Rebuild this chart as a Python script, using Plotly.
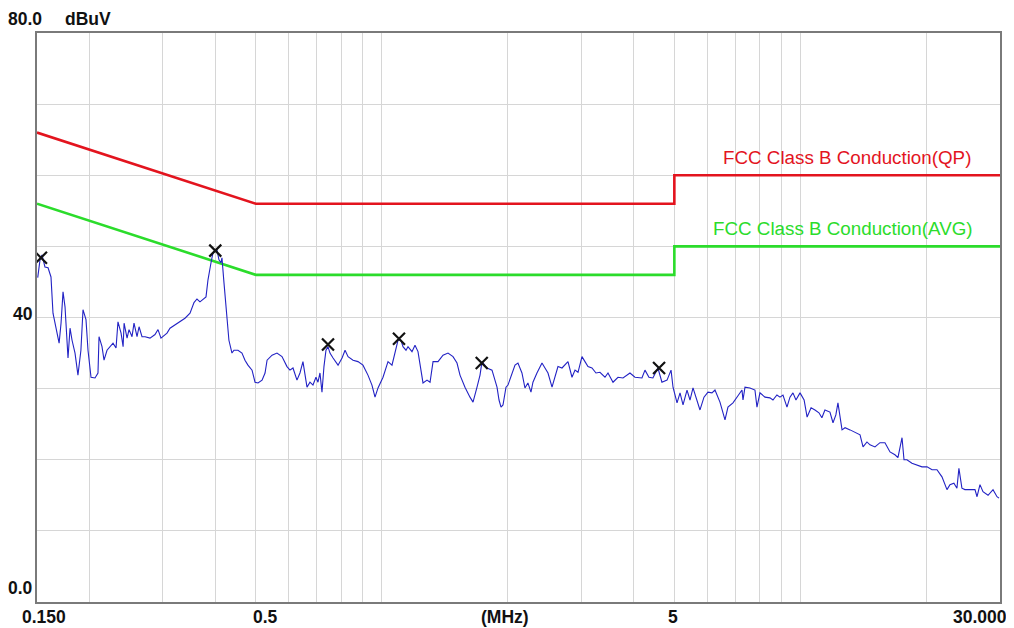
import math
import plotly.graph_objects as go

# ---------------- data ----------------
freq_mhz = [
    0.1506, 0.1525, 0.1542, 0.1567, 0.1594, 0.1620, 0.1638, 0.1666, 0.1694, 0.1712,
    0.1731, 0.1750, 0.1779, 0.1799, 0.1819, 0.1849, 0.1879, 0.1910, 0.1932, 0.1964,
    0.1986, 0.2019, 0.2064, 0.2098, 0.2110, 0.2145, 0.2169, 0.2205, 0.2242, 0.2279,
    0.2317, 0.2342, 0.2382, 0.2409, 0.2422, 0.2462, 0.2489, 0.2530, 0.2558, 0.2601,
    0.2630, 0.2673, 0.2718, 0.2793, 0.2871, 0.2919, 0.2967, 0.3067, 0.3118, 0.3205,
    0.3294, 0.3386, 0.3481, 0.3558, 0.3617, 0.3677, 0.3801, 0.3843, 0.3907, 0.3950,
    0.4038, 0.4082, 0.4127, 0.4150, 0.4196, 0.4266, 0.4312, 0.4385, 0.4433, 0.4532,
    0.4633, 0.4710, 0.4788, 0.4897, 0.4978, 0.5061, 0.5174, 0.5260, 0.5319, 0.5467,
    0.5617, 0.5774, 0.5935, 0.6033, 0.6134, 0.6270, 0.6374, 0.6480, 0.6552, 0.6626,
    0.6735, 0.6847, 0.6961, 0.7038, 0.7116, 0.7195, 0.7274, 0.7355, 0.7436, 0.7519,
    0.7647, 0.7860, 0.8035, 0.8169, 0.8305, 0.8536, 0.8771, 0.9015, 0.9266, 0.9472,
    0.9633, 0.9793, 1.0066, 1.0347, 1.0576, 1.0752, 1.0931, 1.1113, 1.1236, 1.1423,
    1.1550, 1.1806, 1.2003, 1.2203, 1.2407, 1.2544, 1.2824, 1.3038, 1.3256, 1.3623,
    1.4003, 1.4394, 1.4795, 1.5124, 1.5375, 1.5802, 1.6244, 1.6516, 1.6885, 1.7166,
    1.7355, 1.7836, 1.8336, 1.8848, 1.9057, 1.9266, 1.9478, 1.9802, 2.002, 2.047,
    2.081, 2.115, 2.162, 2.198, 2.234, 2.272, 2.297, 2.348, 2.414, 2.454,
    2.495, 2.551, 2.593, 2.636, 2.695, 2.740, 2.785, 2.847, 2.895, 2.943,
    3.008, 3.058, 3.109, 3.178, 3.249, 3.321, 3.414, 3.471, 3.568, 3.667,
    3.770, 3.917, 4.026, 4.184, 4.254, 4.348, 4.444, 4.568, 4.670, 4.803,
    4.910, 4.964, 5.075, 5.159, 5.245, 5.361, 5.450, 5.541, 5.664, 5.758,
    5.886, 6.017, 6.150, 6.253, 6.427, 6.607, 6.716, 6.904, 7.097, 7.254,
    7.295, 7.375, 7.580, 7.791, 7.878, 8.009, 8.232, 8.461, 8.602, 8.792,
    8.941, 9.090, 9.292, 9.446, 9.603, 9.763, 9.984, 10.21, 10.38, 10.61,
    10.84, 11.08, 11.26, 11.45, 11.77, 11.97, 12.16, 12.30, 12.58, 12.79,
    13.15, 13.51, 13.89, 14.12, 14.43, 14.67, 15.08, 15.50, 15.93, 16.38,
    16.83, 17.11, 17.50, 17.69, 17.98, 18.48, 19.00, 19.53, 20.08, 20.64,
    21.21, 21.80, 22.41, 22.78, 23.28, 23.67, 23.93, 24.33, 24.73, 25.43,
    26.14, 26.44, 26.87, 27.32, 28.09, 28.87, 29.51, 29.84,
]
level_dbuv = [
    45.6, 48.1, 48.8, 47.1, 47.0, 45.7, 40.6, 38.7, 36.4, 39.2,
    43.6, 41.5, 34.3, 38.5, 36.8, 35.0, 31.9, 35.4, 41.1, 39.7,
    35.4, 31.6, 31.5, 32.2, 37.3, 35.9, 34.0, 35.4, 35.9, 36.4,
    35.7, 39.4, 37.8, 35.9, 39.2, 37.1, 38.3, 37.3, 39.2, 37.3,
    38.7, 37.3, 37.3, 37.1, 37.6, 38.3, 37.1, 37.8, 38.5, 39.0,
    39.4, 39.9, 40.6, 42.1, 42.6, 42.2, 42.9, 45.3, 47.7, 49.1,
    49.5, 48.1, 47.7, 48.4, 44.9, 40.6, 36.8, 35.0, 35.4, 35.4,
    35.0, 34.0, 33.3, 32.6, 30.9, 30.8, 31.2, 32.2, 34.0, 34.7,
    35.0, 34.5, 33.1, 32.6, 32.9, 31.2, 32.2, 33.8, 31.9, 30.2,
    30.9, 30.5, 31.6, 30.9, 32.2, 29.5, 33.1, 35.4, 35.9, 35.0,
    34.3, 33.3, 34.3, 35.4, 34.5, 34.0, 33.8, 33.3, 31.9, 30.5,
    28.8, 30.1, 31.6, 33.8, 33.3, 35.0, 36.8, 36.8, 35.9, 35.4,
    35.9, 35.2, 36.1, 35.2, 32.6, 30.8, 31.2, 30.9, 33.8, 33.8,
    34.7, 35.0, 34.5, 33.6, 31.9, 30.2, 28.8, 28.1, 30.2, 31.9,
    33.8, 32.9, 32.6, 30.2, 28.4, 27.4, 27.7, 30.2, 30.5, 32.3,
    33.3, 33.6, 32.2, 30.1, 30.8, 29.5, 30.9, 32.2, 33.6, 32.9,
    32.2, 30.2, 31.6, 33.1, 32.9, 33.3, 33.8, 31.6, 32.6, 32.3,
    34.5, 33.8, 33.1, 32.9, 32.2, 32.3, 31.6, 32.2, 30.9, 31.6,
    31.5, 32.2, 31.6, 31.5, 32.6, 31.6, 31.5, 32.9, 30.9, 31.2,
    32.6, 30.2, 28.0, 29.4, 27.7, 29.8, 28.4, 30.1, 28.4, 27.0,
    28.8, 29.5, 29.4, 29.8, 28.1, 25.6, 27.4, 28.0, 29.0, 29.8,
    28.4, 30.2, 30.1, 29.8, 27.4, 29.4, 28.8, 28.7, 28.4, 29.1,
    28.8, 29.1, 27.4, 28.8, 29.4, 28.4, 29.4, 28.4, 26.0, 27.3,
    27.0, 26.6, 25.9, 27.0, 26.7, 25.2, 26.3, 28.0, 24.2, 24.5,
    24.2, 23.8, 23.5, 21.8, 22.5, 22.1, 21.8, 22.4, 22.4, 21.1,
    20.7, 20.3, 23.1, 20.0, 20.0, 19.5, 19.3, 19.0, 19.0, 18.6,
    18.6, 17.6, 15.8, 16.5, 16.7, 16.0, 18.8, 16.0, 15.8, 15.8,
    15.8, 14.8, 16.5, 15.5, 15.0, 15.8, 14.8, 14.6,
]

# peak markers
peak_freq = [0.1533, 0.4000, 0.7437, 1.099, 1.733, 4.597]
peak_level = [48.4, 49.4, 36.2, 37.0, 33.6, 32.9]

# limit lines (FCC Class B conducted)
limit_freq = [0.15, 0.5, 5.0, 5.0, 30.0]
qp_limit = [66.0, 56.0, 56.0, 60.0, 60.0]
avg_limit = [56.0, 46.0, 46.0, 50.0, 50.0]
qp_name = "FCC Class B Conduction(QP)"
avg_name = "FCC Class B Conduction(AVG)"

# axes
x_grid_vals = [0.2, 0.3, 0.4, 0.5, 0.6, 0.7, 0.8, 0.9, 1, 2, 3, 4, 5, 6, 7, 8, 9, 10, 20]
x_tick_vals = [0.15, 0.5, 5, 30]
x_tick_text = ["0.150", "0.5", "5", "30.000"]
y_tick_vals = [80, 40, 0]
y_tick_text = ["80.0", "40", "0.0"]
x_unit = "(MHz)"
y_unit = "dBuV"

# ---------------- styles ----------------
RED = "#e3141e"
GREEN = "#2bdc2b"
TRACE = "#2222c4"
GRID = "#d6d6d6"
AXIS = "#7a7a7a"
LABEL_FONT = dict(family="Liberation Sans, Arial", size=17.5, color="#111111")
LIMIT_FONT_SIZE = 18.8

fig = go.Figure()

fig.add_trace(go.Scatter(x=limit_freq, y=qp_limit, mode="lines",
                         line=dict(color=RED, width=2.6), hoverinfo="skip"))
fig.add_trace(go.Scatter(x=limit_freq, y=avg_limit, mode="lines",
                         line=dict(color=GREEN, width=2.6), hoverinfo="skip"))
fig.add_trace(go.Scatter(x=freq_mhz, y=level_dbuv, mode="lines",
                         line=dict(color=TRACE, width=1.1)))
fig.add_trace(go.Scatter(x=peak_freq, y=peak_level, mode="markers",
                         marker=dict(symbol="x-thin", size=12,
                                     line=dict(color="#111111", width=2.2))))

# the page body adds an 8px offset, so the figure is 8px smaller on each side
fig.update_layout(
    width=1006, height=620,
    margin=dict(l=29, r=14, t=25, b=26, pad=0),
    paper_bgcolor="white", plot_bgcolor="white",
    showlegend=False,
    xaxis=dict(type="log", range=[math.log10(0.15), math.log10(30)],
               tickvals=x_grid_vals, showticklabels=False, ticks="",
               showgrid=True, gridcolor=GRID, gridwidth=1,
               showline=True, linecolor=AXIS, linewidth=2, mirror=True,
               zeroline=False, fixedrange=True),
    yaxis=dict(range=[0, 80], dtick=10, showticklabels=False, ticks="",
               showgrid=True, gridcolor=GRID, gridwidth=1,
               showline=True, linecolor=AXIS, linewidth=2, mirror=True,
               zeroline=False, fixedrange=True),
)

annotations = []
# x tick labels
x_label_style = {
    "0.150": dict(xanchor="center", xshift=7),
    "0.5": dict(xanchor="left", xshift=-5),
    "5": dict(xanchor="center", xshift=-1),
    "30.000": dict(xanchor="right", xshift=9),
}
for v, t in zip(x_tick_vals, x_tick_text):
    st = x_label_style[t]
    annotations.append(dict(x=math.log10(v), y=0, xref="x", yref="paper",
                            text="<b>%s</b>" % t, showarrow=False,
                            yanchor="middle", yshift=-15, font=LABEL_FONT, **st))
annotations.append(dict(x=0.486, y=0, xref="paper", yref="paper",
                        text="<b>%s</b>" % x_unit, showarrow=False,
                        xanchor="center", yanchor="middle", yshift=-15,
                        font=LABEL_FONT))
# y tick labels
y_label_style = {
    "80.0": dict(x=0.0073, yshift=14),
    "40": dict(x=-0.002, yshift=4),
    "0.0": dict(x=-0.002, yshift=14),
}
for v, t in zip(y_tick_vals, y_tick_text):
    st = y_label_style[t]
    annotations.append(dict(x=st["x"], y=v, xref="paper", yref="y",
                            text="<b>%s</b>" % t, showarrow=False,
                            xanchor="right", yanchor="middle", yshift=st["yshift"],
                            font=LABEL_FONT))
annotations.append(dict(x=0.027, y=80, xref="paper", yref="y",
                        text="<b>%s</b>" % y_unit, showarrow=False,
                        xanchor="left", yanchor="middle", yshift=14,
                        font=LABEL_FONT))
# limit line labels
annotations.append(dict(x=math.log10(30), y=qp_limit[-1], xref="x", yref="y",
                        text=qp_name, showarrow=False, xanchor="right",
                        yanchor="bottom", xshift=-27, yshift=5,
                        font=dict(family="Liberation Sans, Arial",
                                  size=LIMIT_FONT_SIZE, color=RED)))
annotations.append(dict(x=math.log10(30), y=avg_limit[-1], xref="x", yref="y",
                        text=avg_name, showarrow=False, xanchor="right",
                        yanchor="bottom", xshift=-25, yshift=5,
                        font=dict(family="Liberation Sans, Arial",
                                  size=LIMIT_FONT_SIZE, color=GREEN)))
fig.update_layout(annotations=annotations)

fig.write_html("out.html")
